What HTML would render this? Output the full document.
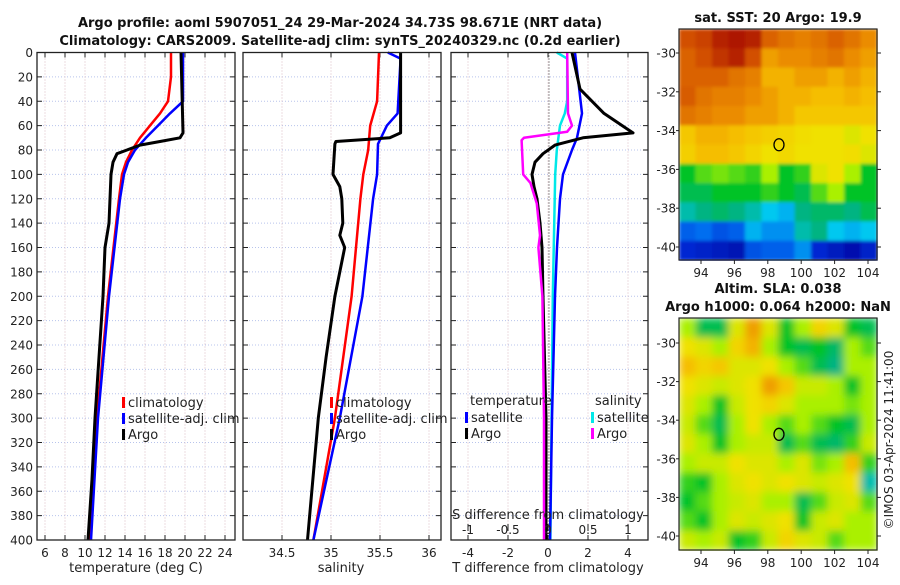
<!DOCTYPE html>
<html><head><meta charset="utf-8">
<style>
body{margin:0;background:#fff;}
svg text{font-family:"DejaVu Sans","Liberation Sans",sans-serif;fill:#222;}
.t{font-weight:bold;font-size:13px;fill:#111;}
.k{font-size:12px;}
.lg{font-size:13px;}
</style></head>
<body>
<svg id="fig" width="900" height="580" viewBox="0 0 900 580" xmlns="http://www.w3.org/2000/svg">
<defs>
<filter id="soft" x="0" y="0" width="1" height="1"><feGaussianBlur stdDeviation="4" edgeMode="duplicate"/></filter>
<filter id="soft2" x="0" y="0" width="1" height="1"><feGaussianBlur stdDeviation="1.5" edgeMode="duplicate"/></filter>
</defs>
<rect width="900" height="580" fill="#fff"/>
<text class="t" x="340" y="27" text-anchor="middle">Argo profile: aoml 5907051_24 29-Mar-2024 34.73S 98.671E (NRT data)</text>
<text class="t" x="340" y="45" text-anchor="middle">Climatology: CARS2009. Satellite-adj clim: synTS_20240329.nc (0.2d earlier)</text>
<text class="t" x="778" y="22" text-anchor="middle">sat. SST: 20 Argo: 19.9</text>
<text class="t" x="778" y="293" text-anchor="middle">Altim. SLA: 0.038</text>
<text class="t" x="778" y="311" text-anchor="middle">Argo h1000: 0.064 h2000: NaN</text>
<text class="k" transform="translate(893,440) rotate(-90)" text-anchor="middle">©IMOS 03-Apr-2024 11:41:00</text>
<g id="plots"></g>
</svg>
<script>
// ---- data ----
const depthTicks=[0,20,40,60,80,100,120,140,160,180,200,220,240,260,280,300,320,340,360,380,400];
const tTicks=[6,8,10,12,14,16,18,20,22,24];
const sTicks=[34.5,35,35.5,36];
const tdTicks=[-4,-2,0,2,4];
const sdTicks=[-1,-0.5,0,0.5,1];
const sdTickLabels=["-1","-0.5","0","0.5","1"];

const climTDepth=[0,20,40,50,60,70,80,90,100,120,200,300,400];
const climT=[18.6,18.6,18.3,17.5,16.5,15.5,14.7,14.1,13.7,13.4,12.3,11.2,10.5];
const satTDepth=[0,40,50,60,70,80,90,100,120,200,300,400];
const satT=[19.8,19.8,18.5,17.3,16.1,15.0,14.3,13.9,13.5,12.4,11.3,10.6];
const argoTDepth=[0,66,70,73,76,80,83,90,100,120,140,160,200,250,300,350,400];
const argoT=[19.6,19.8,19.5,17.5,15.5,14.2,13.2,12.8,12.6,12.5,12.4,12.0,11.8,11.4,11.0,10.7,10.3];

const climSDepth=[0,40,60,80,100,120,200,300,400];
const climS=[35.49,35.47,35.40,35.38,35.33,35.30,35.21,35.04,34.82];
const satSDepth=[0,5,50,60,75,100,120,200,300,400];
const satS=[35.58,35.71,35.68,35.57,35.48,35.47,35.43,35.32,35.09,34.82];
const argoSDepth=[0,66,70,73,75,100,110,120,140,150,160,200,250,300,400];
const argoS=[35.71,35.71,35.60,35.05,35.04,35.02,35.09,35.11,35.12,35.09,35.14,35.04,34.95,34.87,34.76];

const dTDepth=[0,30,50,66,70,76,83,90,100,110,120,140,160,200,300,400];
const dTArgo=[1.2,1.6,2.8,4.25,1.75,0.35,-0.25,-0.65,-0.8,-0.7,-0.55,-0.4,-0.3,-0.25,-0.1,-0.1];
const dTSatDepth=[0,50,70,80,100,120,160,200,300,400];
const dTSat=[1.35,1.7,1.45,1.2,0.75,0.6,0.45,0.35,0.2,0.1];
const dSArgoDepth=[0,50,60,65,70,72,100,107,124,150,160,200,300,400];
const dSArgo=[0.24,0.25,0.3,0.24,-0.3,-0.33,-0.31,-0.22,-0.14,-0.1,-0.12,-0.07,-0.05,-0.05];
const dSSatDepth=[0,5,40,50,60,80,100,200,400];
const dSSat=[0.11,0.24,0.24,0.21,0.15,0.11,0.09,0.06,0.03];

const lonTicks=[94,96,98,100,102,104];
const latTicks=[-30,-32,-34,-36,-38,-40];
const argoLon=98.67, argoLat=-34.73;
const sstGrid=[
[0.88,0.9,0.95,0.97,0.95,0.85,0.82,0.8,0.82,0.85,0.82,0.78],
[0.85,0.88,0.92,0.95,0.88,0.75,0.78,0.78,0.8,0.82,0.78,0.75],
[0.85,0.85,0.85,0.82,0.8,0.72,0.72,0.75,0.75,0.72,0.75,0.72],
[0.86,0.82,0.8,0.8,0.78,0.75,0.72,0.72,0.7,0.7,0.72,0.7],
[0.82,0.8,0.78,0.78,0.75,0.75,0.72,0.68,0.68,0.68,0.68,0.68],
[0.68,0.72,0.72,0.7,0.68,0.66,0.65,0.63,0.62,0.62,0.6,0.62],
[0.66,0.7,0.7,0.68,0.65,0.62,0.64,0.62,0.62,0.62,0.63,0.6],
[0.45,0.5,0.52,0.5,0.48,0.55,0.45,0.48,0.6,0.62,0.55,0.45],
[0.42,0.42,0.45,0.45,0.45,0.48,0.45,0.42,0.5,0.55,0.45,0.45],
[0.35,0.38,0.4,0.38,0.35,0.3,0.28,0.38,0.4,0.4,0.38,0.42],
[0.2,0.22,0.18,0.2,0.28,0.25,0.25,0.35,0.38,0.3,0.28,0.3],
[0.12,0.1,0.08,0.06,0.18,0.2,0.2,0.25,0.12,0.08,0.05,0.1]];
const slaGrid=[
[0.55,0.42,0.42,0.6,0.75,0.6,0.45,0.55,0.65,0.6,0.45,0.42],
[0.62,0.6,0.55,0.65,0.72,0.55,0.45,0.42,0.45,0.4,0.55,0.5],
[0.7,0.65,0.68,0.6,0.6,0.62,0.55,0.5,0.42,0.38,0.55,0.55],
[0.62,0.6,0.58,0.6,0.62,0.75,0.68,0.58,0.58,0.55,0.45,0.55],
[0.6,0.55,0.45,0.58,0.62,0.65,0.6,0.55,0.55,0.55,0.52,0.55],
[0.58,0.5,0.42,0.55,0.62,0.55,0.5,0.55,0.5,0.45,0.42,0.55],
[0.6,0.55,0.45,0.55,0.58,0.58,0.42,0.5,0.42,0.4,0.48,0.58],
[0.55,0.58,0.58,0.62,0.6,0.6,0.55,0.6,0.52,0.55,0.7,0.48],
[0.48,0.45,0.55,0.6,0.62,0.6,0.62,0.6,0.58,0.6,0.62,0.35],
[0.45,0.5,0.55,0.58,0.6,0.55,0.55,0.42,0.5,0.58,0.6,0.5],
[0.5,0.45,0.55,0.6,0.58,0.6,0.62,0.45,0.58,0.6,0.55,0.55],
[0.58,0.55,0.58,0.45,0.48,0.58,0.65,0.6,0.58,0.5,0.55,0.55]];

// ---- helpers ----
const NS="http://www.w3.org/2000/svg";
const root=document.getElementById('plots');
function mk(tag,attrs,parent){const e=document.createElementNS(NS,tag);for(const k in attrs)e.setAttribute(k,attrs[k]);(parent||root).appendChild(e);return e;}
const TOP=52.5, BOT=540;
const yD=d=>TOP+d*(BOT-TOP)/400;
const xT=t=>45+(t-6)*10;
const xS=s=>331+(s-35)*98;
const xTD=v=>548+v*20;
const xSD=v=>548+v*80;

function panel(x0,x1,name,vTicks,xf,showDepth){
  const g=mk('g',{});
  
  
  depthTicks.forEach(d=>{const y=yD(d);
    mk('line',{x1:x0,x2:x1,y1:y,y2:y,stroke:'#b8c4ec','stroke-width':1,'stroke-dasharray':'1,2'},g);
    mk('line',{x1:x0,x2:x0+5,y1:y,y2:y,stroke:'#222'},g);
    mk('line',{x1:x1-5,x2:x1,y1:y,y2:y,stroke:'#222'},g);
    if(showDepth){const t=mk('text',{x:x0-4,y:y+4.5,'text-anchor':'end',class:'k'},g);t.textContent=d;
      
      }
  });
  vTicks.forEach(v=>{const x=xf(v);
    mk('line',{x1:x,x2:x,y1:TOP,y2:BOT,stroke:'#dcbcc4','stroke-width':1,'stroke-dasharray':'1,2'},g);
    mk('line',{x1:x,x2:x,y1:BOT-5,y2:BOT,stroke:'#222'},g);
    mk('line',{x1:x,x2:x,y1:TOP,y2:TOP+5,stroke:'#222'},g);
    const t=mk('text',{x:x,y:BOT+17,'text-anchor':'middle',class:'k'},g);t.textContent=v;
    
    
  });
  return g;
}
function line(g,xs,ds,xf,color,w,name){
  const pts=xs.map((v,i)=>xf(v).toFixed(1)+','+yD(ds[i]).toFixed(1)).join(' ');
  const p=mk('polyline',{points:pts,fill:'none',stroke:color,'stroke-width':w,'stroke-linejoin':'round'},g);
  
  
}
function box(g,x0,x1){mk('rect',{x:x0,y:TOP,width:x1-x0,height:BOT-TOP,fill:'none',stroke:'#222','stroke-width':1.3},g);}
function legend(g,x,y,items){
  items.forEach((it,i)=>{
    mk('rect',{x:x,y:y+i*16-10,width:3,height:11,fill:it[1]},g);
    const t=mk('text',{x:x+6,y:y+i*16,class:'lg'},g);t.textContent=it[0];
    
    
  });
}

// panel 1 temperature
const g1=panel(37,235,'temperature-panel',tTicks,xT,true);
line(g1,climT,climTDepth,xT,'#f00',2.5,'climatology-temp-line');
line(g1,satT,satTDepth,xT,'#00f',2.5,'satellite-temp-line');
line(g1,argoT,argoTDepth,xT,'#000',3,'argo-temp-line');
box(g1,37,235);
legend(g1,122,407,[['climatology','#f00'],['satellite-adj. clim','#00f'],['Argo','#000']]);
{const t=mk('text',{x:136,y:572,'text-anchor':'middle',class:'lg'},g1);t.textContent='temperature (deg C)';
}

// panel 2 salinity
const g2=panel(243,441,'salinity-panel',sTicks,xS,false);
line(g2,climS,climSDepth,xS,'#f00',2.5,'climatology-sal-line');
line(g2,satS,satSDepth,xS,'#00f',2.5,'satellite-sal-line');
line(g2,argoS,argoSDepth,xS,'#000',3,'argo-sal-line');
box(g2,243,441);
legend(g2,330,407,[['climatology','#f00'],['satellite-adj. clim','#00f'],['Argo','#000']]);
{const t=mk('text',{x:341,y:572,'text-anchor':'middle',class:'lg'},g2);t.textContent='salinity';
}

// panel 3 differences
const g3=panel(451,648,'difference-panel',tdTicks,xTD,false);
mk('line',{x1:549,x2:549,y1:TOP,y2:BOT,stroke:'#333','stroke-width':1,'stroke-dasharray':'1,2'},g3);
line(g3,dSSat,dSSatDepth,xSD,'#00e8e8',2.5,'satellite-sal-diff-line');
line(g3,dTSat,dTSatDepth,xTD,'#00f',2.5,'satellite-temp-diff-line');
line(g3,dTArgo,dTDepth,xTD,'#000',3,'argo-temp-diff-line');
line(g3,dSArgo,dSArgoDepth,xSD,'#f0f',2.5,'argo-sal-diff-line');
box(g3,451,648);
{const t=mk('text',{x:470,y:405,class:'lg'},g3);t.textContent='temperature';

const s=mk('text',{x:595,y:405,class:'lg'},g3);s.textContent='salinity';
}
legend(g3,465,422,[['satellite','#00f'],['Argo','#000']]);
legend(g3,591,422,[['satellite','#00e8e8'],['Argo','#f0f']]);
{const t=mk('text',{x:548,y:519,'text-anchor':'middle',class:'lg'},g3);t.textContent='S difference from climatology';
}
sdTicks.forEach((v,i)=>{const x=xSD(v);
  mk('line',{x1:x,x2:x,y1:524,y2:531,stroke:'#222'},g3);
  const t=mk('text',{x:x,y:534,'text-anchor':'middle',class:'k'},g3);t.textContent=sdTickLabels[i];
  });
{const t=mk('text',{x:548,y:572,'text-anchor':'middle',class:'lg'},g3);t.textContent='T difference from climatology';
}

// colormap
function jet(v){
  const st=[[0,[0,0,150]],[0.12,[0,40,210]],[0.22,[0,110,240]],[0.3,[0,200,240]],[0.38,[0,180,130]],[0.45,[0,195,40]],[0.55,[170,240,0]],[0.62,[240,225,0]],[0.7,[245,190,0]],[0.78,[235,140,0]],[0.88,[210,80,0]],[1,[160,0,0]]];
  for(let i=1;i<st.length;i++){if(v<=st[i][0]){const a=st[i-1],b=st[i],f=(v-a[0])/(b[0]-a[0]);
    return 'rgb('+a[1].map((c,j)=>Math.round(c+(b[1][j]-c)*f)).join(',')+')';}}
  return 'rgb(160,0,0)';
}
function map(name,grid,x0,x1,yTop,yBot,y30,y40,filt){
  const g=mk('g',{});
  
  
  const cells=mk('g',{filter:'url(#'+filt+')'},g);
  const xL=l=>701+(l-94)*16.7;
  const yL=la=>y30+(-30-la)*(y40-y30)/10;
  const nr=grid.length,nc=grid[0].length,cw=(x1-x0)/nc,ch=(yBot-yTop)/nr;
  grid.forEach((row,r)=>row.forEach((v,c)=>{
    const cell=mk('rect',{x:(x0+c*cw).toFixed(1),y:(yTop+r*ch).toFixed(1),width:(cw+0.6).toFixed(1),height:(ch+0.6).toFixed(1),fill:jet(v)},cells);
    
    
  }));
  mk('rect',{x:x0,y:yTop,width:x1-x0,height:yBot-yTop,fill:'none',stroke:'#222','stroke-width':1.2},g);
  lonTicks.forEach(l=>{const x=xL(l);
    mk('line',{x1:x,x2:x,y1:yBot,y2:yBot+4,stroke:'#222'},g);
    const t=mk('text',{x:x,y:yBot+17,'text-anchor':'middle',class:'k'},g);t.textContent=l;
    });
  latTicks.forEach(la=>{const y=yL(la);
    mk('line',{x1:x1,x2:x1+4,y1:y,y2:y,stroke:'#222'},g);
    mk('line',{x1:x0-3,x2:x0,y1:y,y2:y,stroke:'#222'},g);
    const t=mk('text',{x:x0-3,y:y+4.5,'text-anchor':'end',class:'k'},g);t.textContent=la;
    });
  const c=mk('ellipse',{cx:xL(argoLon),cy:yL(argoLat),rx:5,ry:6,fill:'none',stroke:'#000','stroke-width':1.3},g);
  
  
}
map('sst-map',sstGrid,679,877,29,260,53,247,'soft2');
map('sla-map',slaGrid,679,877,318,550,343,536,'soft');
</script>
</body></html>
